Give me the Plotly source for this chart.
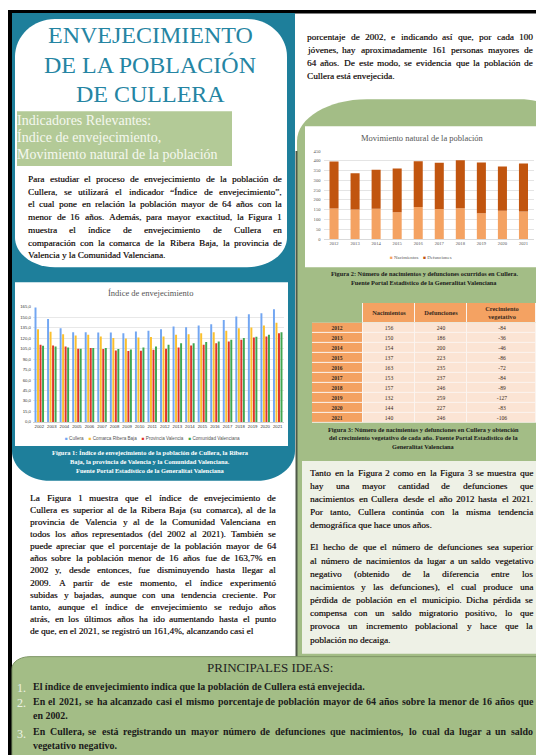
import plotly.graph_objects as go

OFF = 0
W, H = 536, 755
SERIF = "Liberation Serif"
SANS = "Liberation Sans"

# ---------------- DATA ----------------
# Figura 1: Índice de envejecimiento
years_idx = ["2002", "2003", "2004", "2005", "2006", "2007", "2008", "2009", "2010", "2011",
             "2012", "2013", "2014", "2015", "2016", "2017", "2018", "2019", "2020", "2021"]
cullera = [163.7, 147.5, 134.0, 128.5, 128.5, 128.0, 128.0, 127.0, 129.4, 130.4,
           132.8, 136.6, 135.6, 138.0, 139.9, 146.0, 150.8, 154.0, 155.5, 161.4]
ribera_baja = [132.8, 129.0, 125.6, 123.8, 124.7, 122.3, 120.0, 119.5, 121.0, 121.4,
               122.3, 124.7, 125.6, 127.0, 128.5, 130.4, 134.2, 135.0, 138.0, 142.0]
prov_valencia = [110.5, 109.5, 108.0, 104.8, 105.7, 104.3, 102.4, 101.5, 102.0, 103.4,
                 104.8, 106.7, 109.5, 110.5, 112.8, 115.2, 117.6, 121.0, 122.3, 127.0]
com_valenciana = [109.0, 108.0, 106.7, 104.8, 105.7, 105.7, 104.3, 103.8, 106.7, 108.0,
                  110.5, 112.8, 112.8, 114.3, 115.2, 117.6, 120.0, 121.9, 124.7, 128.5]
series_names = ["Cullera", "Comarca Ribera Baja", "Provincia Valencia", "Comunidad Valenciana"]
idx_ticks = [0, 15, 30, 45, 60, 75, 90, 105, 120, 135, 150, 165]

# Figura 2 / 3: Movimiento natural de la población
years_mov = ["2012", "2013", "2014", "2015", "2016", "2017", "2018", "2019", "2020", "2021"]
nacimientos = [156, 150, 154, 137, 163, 153, 157, 132, 144, 140]
defunciones = [240, 186, 200, 223, 235, 237, 246, 259, 227, 246]
crecimiento = [-84, -36, -46, -86, -72, -84, -89, -127, -83, -106]
mov_ticks = [0, 50, 100, 150, 200, 250, 300, 350, 400, 450]
table_header = ["", "Nacimientos", "Defunciones", "Crecimiento<br>vegetativo"]

# ---------------- STYLE ----------------
TEAL = "#1e7f9b"
TITLE_C = "#2585a3"
GREEN = "#a3bd86"
LGREEN = "#b3ca97"
TXT = "#1e1715"
SHADOW = "0.3px 0px 0px rgba(30,23,21,0.75)"
C_SER = ["#72a6f2", "#fbc02d", "#e0342c", "#3fa650"]
C_NAC = "#f4a262"
C_DEF = "#c1550f"
T_HEAD = "#f4a262"
T_CELL = "#fbe4d4"


def X(x):
    return (x - OFF) / W


def Y(y):
    return 1 - (y - OFF) / H


def P(x, y):
    return f"{X(x):.5f},{Y(y):.5f}"


def rr_path(x0, y0, x1, y1, tl=(0, 0), tr=(0, 0), br=(0, 0), bl=(0, 0)):
    k = 0.552
    s = f"M{P(x0 + tl[0], y0)} L{P(x1 - tr[0], y0)} "
    s += f"C{P(x1 - tr[0] + k * tr[0], y0)} {P(x1, y0 + tr[1] - k * tr[1])} {P(x1, y0 + tr[1])} "
    s += f"L{P(x1, y1 - br[1])} "
    s += f"C{P(x1, y1 - br[1] + k * br[1])} {P(x1 - br[0] + k * br[0], y1)} {P(x1 - br[0], y1)} "
    s += f"L{P(x0 + bl[0], y1)} "
    s += f"C{P(x0 + bl[0] - k * bl[0], y1)} {P(x0, y1 - bl[1] + k * bl[1])} {P(x0, y1 - bl[1])} "
    s += f"L{P(x0, y0 + tl[1])} "
    s += f"C{P(x0, y0 + tl[1] - k * tl[1])} {P(x0 + tl[0] - k * tl[0], y0)} {P(x0 + tl[0], y0)} Z"
    return s


shapes = []


def shape_path(path, fill, line_color=None, line_width=0):
    shapes.append(dict(type="path", path=path, xref="paper", yref="paper", fillcolor=fill,
                       line=dict(color=line_color or fill, width=line_width), layer="below"))


def rect(x0, y0, x1, y1, fill):
    shapes.append(dict(type="rect", xref="paper", yref="paper", x0=X(x0), x1=X(x1), y0=Y(y1), y1=Y(y0),
                       fillcolor=fill, line=dict(width=0), layer="below"))


def vline(x, y0, y1, color, width):
    shapes.append(dict(type="line", xref="paper", yref="paper", x0=X(x), x1=X(x), y0=Y(y0), y1=Y(y1),
                       line=dict(color=color, width=width), layer="below"))


annotations = []


def T(x, y, s, size=9.2, color=TXT, anchor="left", family=SERIF, bold=False, shadow="none"):
    if bold:
        s = f"<b>{s}</b>"
    annotations.append(dict(x=X(x), y=Y(y), xref="paper", yref="paper", text=s, showarrow=False,
                            xanchor=anchor, yanchor="middle", align=anchor, borderpad=0, borderwidth=0,
                            font=dict(size=size, color=color, family=family, shadow=shadow)))


# Times / Liberation Serif advance widths (1/1000 em) used to justify lines
_WID = dict(zip("abcdefghijklmnopqrstuvwxyz",
                [444, 500, 444, 500, 444, 333, 500, 500, 278, 278, 500, 278, 778, 500, 500, 500, 500,
                 333, 389, 278, 500, 500, 722, 500, 500, 444]))
_WID.update(zip("ABCDEFGHIJKLMNOPQRSTUVWXYZ",
                [722, 667, 667, 722, 611, 556, 722, 722, 333, 389, 722, 611, 889, 722, 722, 556, 722,
                 667, 556, 611, 722, 722, 944, 722, 722, 611]))
_WID.update({c: 500 for c in "0123456789"})
_WID.update({",": 250, ".": 250, ":": 278, ";": 278, "(": 333, ")": 333, "%": 833, "-": 333,
             "“": 444, "”": 444, '"': 408, " ": 250})
_ACC = {"á": "a", "é": "e", "í": "i", "ó": "o", "ú": "u", "ñ": "n", "ü": "u",
        "Á": "A", "É": "E", "Í": "I", "Ó": "O", "Ú": "U"}


def wlen(word, size, bold=False):
    w = size * sum(_WID.get(_ACC.get(c, c), 500) for c in word) / 1000.0
    return w * (1.06 if bold else 1.0)


def J(x0, x1, y, line, size=9.2, color=TXT, bold=False, shadow=SHADOW):
    words = line.split()
    ws = [wlen(w, size, bold) for w in words]
    natural = sum(ws) + (len(words) - 1) * wlen(" ", size, bold)
    if len(words) < 2 or natural > (x1 - x0):
        T(x0, y, line, size=size, color=color, bold=bold, shadow=shadow)
        return
    gap = (x1 - x0 - sum(ws)) / (len(words) - 1)
    xx = x0
    for w, wl in zip(words, ws):
        T(xx, y, w, size=size, color=color, bold=bold, shadow=shadow)
        xx += wl + gap


def paragraph(lines, x0, x1, y0, dy, size=9.2, last_free=True):
    for i, line in enumerate(lines):
        y = y0 + dy * i
        if last_free and i == len(lines) - 1:
            T(x0, y, line, size=size, shadow=SHADOW)
        else:
            J(x0, x1, y, line, size=size)


# ---------------- BACKGROUND PANELS ----------------
rect(8, 8, 545, 11.5, "#000000")
rect(8, 8, 12, 760, "#000000")
shape_path(rr_path(12, 11, 295, 482, br=(38, 30), bl=(38, 30)), TEAL)
shape_path(rr_path(15, 17, 287, 267, tl=(40, 38), tr=(40, 38), br=(40, 30), bl=(40, 30)), "#ffffff")
rect(17, 110, 232, 165, LGREEN)
rect(15, 282, 288, 447, "#ffffff")
shape_path(rr_path(297, 98, 560, 668, tl=(70, 42), tr=(40, 20)), GREEN)
vline(296.5, 150, 662, "#4f5a48", 2)
rect(305, 125, 545, 267, "#ffffff")
# light grid lines behind the table cells
rect(362, 303, 536, 323, "#fbf4ef")
rect(312, 323, 536, 423.5, "#fbf4ef")
rect(302, 462, 545, 656, "#eef1e6")
shape_path(rr_path(12, 659, 560, 770, tl=(18, 12)), GREEN, "#7f9666", 1)

# ---------------- TEXT ----------------
for i, line in enumerate(["ENVEJECIMIENTO", "DE LA POBLACIÓN", "DE CULLERA"]):
    T(150, 33 + 30 * i, line, size=24, color=TITLE_C, anchor="center")

for i, line in enumerate(["Indicadores Relevantes:", "Índice de envejecimiento,",
                          "Movimiento natural de la población"]):
    T(17, 119 + 17.3 * i, line, size=14, color="#f5f8ef")

intro = ["Para estudiar el proceso de envejecimiento de la población de",
         "Cullera, se utilizará el indicador “Índice de envejecimiento”,",
         "el cual pone en relación la población mayor de 64 años con la",
         "menor de 16 años. Además, para mayor exactitud, la Figura 1",
         "muestra el índice de envejecimiento de Cullera en",
         "comparación con la comarca de la Ribera Baja, la provincia de",
         "Valencia y la Comunidad Valenciana."]
paragraph(intro, 28, 282, 178, 12.85)

T(150, 293, "Índice de envejecimiento", size=8.5, color="#555555", anchor="center")
leg1 = "&nbsp;&nbsp;&nbsp;&nbsp;".join(
    f"<span style='color:{c}'>■</span> {n}" for n, c in zip(series_names, C_SER))
T(152, 439, leg1, size=4.6, color="#555555", anchor="center", family=SANS)

cap1 = ["Figura 1: Índice de envejecimiento de la población de Cullera, la Ribera",
        "Baja, la provincia de Valencia y la Comunidad Valenciana.",
        "Fuente Portal Estadístico de la Generalitat Valenciana"]
for i, line in enumerate(cap1):
    T(150, 453 + 9.5 * i, line, size=6.4, color="#ffffff", anchor="center", bold=True)

body1 = ["La Figura 1 muestra que el índice de envejecimiento de",
         "Cullera es superior al de la Ribera Baja (su comarca), al de la",
         "provincia de Valencia y al de la Comunidad Valenciana en",
         "todos los años representados (del 2002 al 2021).  También se",
         "puede apreciar que el porcentaje de la población mayor de 64",
         "años sobre la población menor de 16 años fue de 163,7% en",
         "2002 y, desde entonces, fue disminuyendo hasta llegar al",
         "2009. A partir de este momento, el índice experimentó",
         "subidas y bajadas, aunque con una tendencia creciente. Por",
         "tanto, aunque el índice de envejecimiento se redujo años",
         "atrás, en los últimos años ha ido aumentando hasta el punto",
         "de que, en el 2021, se registró un 161,4%, alcanzando casi el"]
paragraph(body1, 30, 276, 499, 12.2)

body2 = ["porcentaje de 2002, e indicando así que, por cada 100",
         "jóvenes, hay aproximadamente 161 personas mayores de",
         "64 años. De este modo, se evidencia que la población de",
         "Cullera está envejecida."]
paragraph(body2, 307, 533, 35, 13)

T(422, 137, "Movimiento natural de la población", size=8.5, color="#555555", anchor="center")
leg2 = (f"<span style='color:{C_NAC}'>■</span> Nacimientos&nbsp;&nbsp;&nbsp;&nbsp;"
        f"<span style='color:{C_DEF}'>■</span> Defunciones")
T(421, 257, leg2, size=4.8, color="#555555", anchor="center")

cap2 = ["Figura 2: Número de nacimientos y defunciones ocurridos en Cullera.",
        "Fuente Portal Estadístico de la Generalitat Valenciana"]
for i, line in enumerate(cap2):
    T(424, 273 + 9 * i, line, size=6.3, color="#1a1a1a", anchor="center", bold=True)

cap3 = ["Figura 3: Número de nacimientos y defunciones en Cullera y obtención",
        "del crecimiento vegetativo de cada año. Fuente Portal Estadístico de la",
        "Generalitat Valenciana"]
for i, line in enumerate(cap3):
    T(423, 430 + 8.5 * i, line, size=6.3, color="#1a1a1a", anchor="center", bold=True)

body3 = ["Tanto en la Figura 2 como en la Figura 3 se muestra que",
         "hay una mayor cantidad de defunciones que",
         "nacimientos en Cullera desde el año 2012 hasta el 2021.",
         "Por tanto, Cullera continúa con la misma tendencia",
         "demográfica que hace unos años."]
paragraph(body3, 310, 533, 474, 13.2)

body4 = ["El hecho de que el número de defunciones sea superior",
         "al número de nacimientos da lugar a un saldo vegetativo",
         "negativo (obtenido de la diferencia entre los",
         "nacimientos y las defunciones), el cual produce una",
         "pérdida de población en el municipio. Dicha pérdida se",
         "compensa con un saldo migratorio positivo, lo que",
         "provoca un incremento poblacional y hace que la",
         "población no decaiga."]
paragraph(body4, 310, 533, 549, 13.25)

T(270, 670, "PRINCIPALES IDEAS:", size=13, color="#222222", anchor="center")
for n, yy in zip(["1.", "2.", "3."], [691, 706, 737]):
    T(17, yy, n, size=12, color="#eef3e6")
ideas = [(689, "El índice de envejecimiento indica que la población de Cullera está envejecida.", False),
         (704, "En el 2021, se ha alcanzado casi el mismo porcentaje de población mayor de 64 años sobre la menor de 16 años que", True),
         (718, "en 2002.", False),
         (734, "En Cullera, se está registrando un mayor número de defunciones que nacimientos, lo cual da lugar a un saldo", True),
         (748, "vegetativo negativo.", False)]
for yy, line, just in ideas:
    if just:
        J(33, 533, yy, line, size=9.95, color="#1a1a1a", bold=True, shadow="none")
    else:
        T(33, yy, line, size=9.95, color="#1a1a1a", bold=True)

# ---------------- TRACES ----------------
fig = go.Figure()
for name, vals, col in zip(series_names, [cullera, ribera_baja, prov_valencia, com_valenciana], C_SER):
    fig.add_trace(go.Bar(x=years_idx, y=vals, name=name, marker=dict(color=col, line=dict(width=0)),
                         xaxis="x", yaxis="y", showlegend=False, hoverinfo="skip"))

fig.add_trace(go.Bar(x=years_mov, y=nacimientos, name="Nacimientos", marker=dict(color=C_NAC, line=dict(width=0)),
                     xaxis="x2", yaxis="y2", offsetgroup="mov", width=0.43, offset=-0.215,
                     showlegend=False, hoverinfo="skip"))
fig.add_trace(go.Bar(x=years_mov, y=defunciones, base=nacimientos, name="Defunciones",
                     marker=dict(color=C_DEF, line=dict(width=0)),
                     xaxis="x2", yaxis="y2", offsetgroup="mov", width=0.43, offset=-0.215,
                     showlegend=False, hoverinfo="skip"))

# Figura 3 table drawn as heatmap cells on a hidden pixel-scaled axis pair
col_edges = [312, 362.5, 415, 467, 536]
head_edges = [303, 323]
row_edges = [323 + 10.05 * i for i in range(len(years_mov) + 1)]
fig.add_trace(go.Heatmap(
    x=col_edges, y=head_edges, z=[[None, 0, 0, 0]], text=[[f"<b>{h}</b>" if h else "" for h in table_header]],
    texttemplate="%{text}", textfont=dict(size=6.4, color="#3a2a20", family=SERIF),
    colorscale=[[0, T_HEAD], [1, T_CELL]], zmin=0, zmax=1, showscale=False,
    xgap=1, ygap=1, hoverinfo="skip", xaxis="x3", yaxis="y3"))
body_z = [[0, 1, 1, 1] for _ in years_mov]
body_text = [[f"<b>{y}</b>", str(n), str(d), str(c)]
             for y, n, d, c in zip(years_mov, nacimientos, defunciones, crecimiento)]
fig.add_trace(go.Heatmap(
    x=col_edges, y=row_edges, z=body_z, text=body_text,
    texttemplate="%{text}", textfont=dict(size=5.6, color="#3a2a20", family=SERIF),
    colorscale=[[0, T_HEAD], [1, T_CELL]], zmin=0, zmax=1, showscale=False,
    xgap=1, ygap=1, hoverinfo="skip", xaxis="x3", yaxis="y3"))

fig.update_layout(
    width=W, height=H, margin=dict(l=0, r=0, t=0, b=0),
    paper_bgcolor="#ffffff", plot_bgcolor="rgba(0,0,0,0)",
    showlegend=False, barmode="group", bargap=0.2, bargroupgap=0.22,
    shapes=shapes, annotations=annotations,
    xaxis=dict(domain=[X(33), X(284)], anchor="y", type="category", showgrid=False,
               showline=True, linecolor="#d0d0d0", linewidth=1, ticks="",
               tickfont=dict(size=4.3, color="#333333", family=SANS), tickangle=0, fixedrange=True),
    yaxis=dict(domain=[Y(422.7), Y(306.7)], anchor="x", range=[0, 165], tickvals=idx_ticks,
               ticktext=[f"{v:.1f}".replace(".", ",") for v in idx_ticks],
               showgrid=True, gridcolor="#e8e8e8", gridwidth=1, zeroline=False, showline=False,
               tickfont=dict(size=4.3, color="#333333", family=SANS), ticklabelstandoff=1),
    xaxis2=dict(domain=[X(323.5), X(534)], anchor="y2", type="category", showgrid=False,
                showline=True, linecolor="#d9d9d9", linewidth=1, ticks="",
                tickfont=dict(size=4.6, color="#555555", family=SERIF), tickangle=0),
    yaxis2=dict(domain=[Y(238.5), Y(150)], anchor="x2", range=[0, 450], tickvals=mov_ticks,
                showgrid=True, gridcolor="#e4e4e4", gridwidth=1, zeroline=False, showline=False,
                tickfont=dict(size=4.6, color="#555555", family=SERIF), ticklabelstandoff=2),
    xaxis3=dict(domain=[X(312), X(536)], anchor="y3", range=[312, 536], visible=False, fixedrange=True),
    yaxis3=dict(domain=[Y(423.5), Y(303)], anchor="x3", range=[423.5, 303], visible=False, fixedrange=True),
)

# remove the browser's default 8px page margin so the figure fills the window exactly
fig.write_html("out.html", config={"displayModeBar": False, "staticPlot": True},
               post_script="document.body.style.margin='0';document.body.style.overflow='hidden';")
